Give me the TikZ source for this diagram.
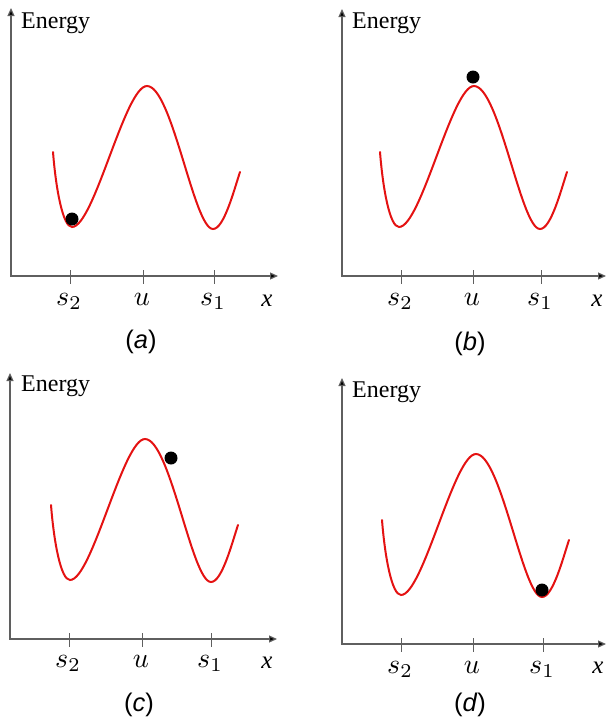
\documentclass[tikz,border=0pt]{standalone}
\usepackage[no-math]{fontspec}
\setmainfont{Liberation Serif}
\newfontfamily\capfont{Liberation Sans}
\newfontfamily\xfont{Liberation Serif}
\usetikzlibrary{arrows.meta}
\definecolor{curvered}{RGB}{228,18,18}
\definecolor{axisgray}{RGB}{95,95,95}
\tikzset{
  axisline/.style={draw=axisgray, line width=1.2pt,
    {Triangle[length=8pt,width=7pt,fill=black]}-{Triangle[length=8pt,width=7pt,fill=black]}},
  tickmark/.style={draw=axisgray, line width=1pt},
  curve/.style={draw=curvered, line width=2pt, line cap=round},
  ball/.style={fill=black},
  mlabel/.style={inner sep=0pt, anchor=base, font=\fontsize{10}{12}\selectfont, scale=2.8, transform shape},
  xlabel/.style={inner sep=0pt, anchor=base, font=\fontsize{25}{28}\selectfont\xfont\itshape},
  elabel/.style={inner sep=0pt, anchor=base west, font=\fontsize{24}{28}\selectfont},
  caplabel/.style={inner sep=0pt, anchor=center, font=\fontsize{25.5}{30}\selectfont\capfont},
  well/.pic={
    \draw[curve] (53,152) .. controls (56,190) and (63,227) .. (72,227)
      .. controls (94,227) and (125,86) .. (147,86)
      .. controls (172,86) and (194,229) .. (213,229)
      .. controls (224,229) and (234,190) .. (240,172);
  }
}
\begin{document}
\begin{tikzpicture}[x=1pt, y=-1pt]
\useasboundingbox (0,0) rectangle (607,721);

% ---------- panel (a) ----------
\coordinate (a-o) at (11,276);
\coordinate (a-top) at (11,8);
\coordinate (a-right) at (278,276);
\draw[axisline] (a-top) -- (a-o) -- (a-right);
\foreach \t in {70,143,214} \draw[tickmark] (\t,270) -- (\t,284);
\pic at (0,0) {well};
\fill[ball] (72,219) circle[radius=6.5];
\node[elabel] (a-en) at (21,28) {Energy};
\node[mlabel] (a-s2) at (69,305) {$s_2$};
\node[mlabel] (a-u) at (142,305) {$u$};
\node[mlabel] (a-s1) at (213,305) {$s_1$};
\node[xlabel] (a-x) at (267,306) {x};
\node[caplabel] (a-cap) at (141,342) {(\textit{a})};

% ---------- panel (b) ----------
\coordinate (b-o) at (342,276);
\coordinate (b-top) at (342,9);
\coordinate (b-right) at (606,276);
\draw[axisline] (b-top) -- (b-o) -- (b-right);
\foreach \t in {401,473,541} \draw[tickmark] (\t,270) -- (\t,284);
\pic at (327,0) {well};
\fill[ball] (473,77) circle[radius=6.5];
\node[elabel] (b-en) at (352,28) {Energy};
\node[mlabel] (b-s2) at (400,305) {$s_2$};
\node[mlabel] (b-u) at (472,305) {$u$};
\node[mlabel] (b-s1) at (540,305) {$s_1$};
\node[xlabel] (b-x) at (597,306) {x};
\node[caplabel] (b-cap) at (470,344) {(\textit{b})};

% ---------- panel (c) ----------
\coordinate (c-o) at (10,639);
\coordinate (c-top) at (10,373);
\coordinate (c-right) at (277,639);
\draw[axisline] (c-top) -- (c-o) -- (c-right);
\foreach \t in {69,142,211} \draw[tickmark] (\t,633) -- (\t,647);
\pic at (-2,353) {well};
\fill[ball] (171,458) circle[radius=6.5];
\node[elabel] (c-en) at (21,391) {Energy};
\node[mlabel] (c-s2) at (68,667) {$s_2$};
\node[mlabel] (c-u) at (141,667) {$u$};
\node[mlabel] (c-s1) at (210,667) {$s_1$};
\node[xlabel] (c-x) at (267,668) {x};
\node[caplabel] (c-cap) at (139,705) {(\textit{c})};

% ---------- panel (d) ----------
\coordinate (d-o) at (342,644);
\coordinate (d-top) at (342,378);
\coordinate (d-right) at (606,644);
\draw[axisline] (d-top) -- (d-o) -- (d-right);
\foreach \t in {401,473,543} \draw[tickmark] (\t,638) -- (\t,652);
\pic at (329,368) {well};
\fill[ball] (542,590) circle[radius=6.5];
\node[elabel] (d-en) at (352,397) {Energy};
\node[mlabel] (d-s2) at (400,673) {$s_2$};
\node[mlabel] (d-u) at (472,673) {$u$};
\node[mlabel] (d-s1) at (542,673) {$s_1$};
\node[xlabel] (d-x) at (598,673) {x};
\node[caplabel] (d-cap) at (470,705) {(\textit{d})};
\end{tikzpicture}
\end{document}
